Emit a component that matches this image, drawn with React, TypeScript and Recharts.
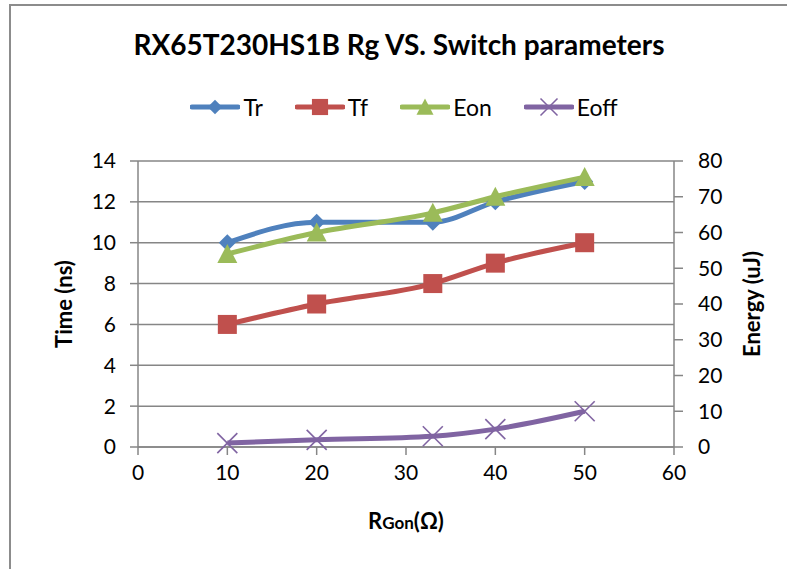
import { LineChart, Line, XAxis, YAxis, CartesianGrid } from "recharts";

// Rg (ohm) vs switching parameters
const rgValues = [10, 20, 33, 40, 50];
const trValues = [10, 11, 11, 12, 13];
const tfValues = [6, 7, 8, 9, 10];
const eonValues = [54, 60, 65.5, 70, 75.5];
const eoffValues = [1.1, 2, 3, 5, 10];

const rgTicks = [0, 10, 20, 30, 40, 50, 60];
const timeTicks = [0, 2, 4, 6, 8, 10, 12, 14];
const energyTicks = [0, 10, 20, 30, 40, 50, 60, 70, 80];

const data = rgValues.map((rg, i) => ({
  rg,
  Tr: trValues[i],
  Tf: tfValues[i],
  Eon: eonValues[i],
  Eoff: eoffValues[i],
}));

const FONT = "Lato, 'Open Sans', sans-serif";
const GRID = "#868686";

const COLORS = {
  Tr: "#4F81BD",
  Tf: "#C0504D",
  Eon: "#9BBB59",
  Eoff: "#8064A2",
};

type MarkerKind = "diamond" | "square" | "triangle" | "cross";

function Marker({ kind, cx, cy, color, s = 1 }: { kind: MarkerKind; cx: number; cy: number; color: string; s?: number }) {
  if (kind === "diamond") {
    const r = 8.5 * s;
    return <polygon points={`${cx},${cy - r} ${cx + r},${cy} ${cx},${cy + r} ${cx - r},${cy}`} fill={color} />;
  }
  if (kind === "square") {
    const r = 9.5 * s;
    return <rect x={cx - r} y={cy - r} width={r * 2} height={r * 2} fill={color} />;
  }
  if (kind === "triangle") {
    const r = 10 * s;
    return <polygon points={`${cx},${cy - r} ${cx + r},${cy + r * 0.9} ${cx - r},${cy + r * 0.9}`} fill={color} />;
  }
  const r = 10 * s;
  return (
    <g stroke={color} strokeWidth={1.6}>
      <line x1={cx - r} y1={cy - r} x2={cx + r} y2={cy + r} />
      <line x1={cx - r} y1={cy + r} x2={cx + r} y2={cy - r} />
    </g>
  );
}

const makeDot = (kind: MarkerKind, color: string) => (props: any) => {
  const { cx, cy, index } = props;
  if (cx == null || cy == null) return <g key={index} />;
  return <Marker key={index} kind={kind} cx={cx} cy={cy} color={color} />;
};

const legendItems: { name: string; kind: MarkerKind; color: string }[] = [
  { name: "Tr", kind: "diamond", color: COLORS.Tr },
  { name: "Tf", kind: "square", color: COLORS.Tf },
  { name: "Eon", kind: "triangle", color: COLORS.Eon },
  { name: "Eoff", kind: "cross", color: COLORS.Eoff },
];

function LegendBar() {
  return (
    <div
      style={{
        position: "absolute",
        left: 0,
        top: 93,
        width: 808,
        display: "flex",
        justifyContent: "center",
        alignItems: "center",
        gap: 32,
        fontFamily: FONT,
        fontSize: 23,
      }}
    >
      {legendItems.map((it) => (
        <div key={it.name} style={{ display: "flex", alignItems: "center" }}>
          <svg width={50} height={26}>
            <line x1={2} y1={13} x2={48} y2={13} stroke={it.color} strokeWidth={5} strokeLinecap="round" />
            <Marker kind={it.kind} cx={25} cy={13} color={it.color} s={0.85} />
          </svg>
          <span style={{ marginLeft: 3, color: "#000" }}>{it.name}</span>
        </div>
      ))}
    </div>
  );
}

function XLabel(props: any) {
  const { viewBox } = props;
  const cx = viewBox.x + viewBox.width / 2;
  return (
    <text x={cx} y={viewBox.y + 82} textAnchor="middle" fontFamily={FONT} fontWeight="bold" fontSize={22} fill="#000">
      R<tspan fontSize={17}>Gon</tspan>(Ω)
    </text>
  );
}

export default function App() {
  return (
    <div style={{ position: "absolute", left: 0, top: 0, width: 787, height: 569, background: "#fff", overflow: "hidden" }}>
      <div
        style={{
          position: "absolute",
          left: 9,
          top: 4,
          width: 800,
          height: 600,
          borderLeft: "2px solid #8c8c8c",
          borderTop: "2px solid #8c8c8c",
          boxSizing: "border-box",
        }}
      />
      <div
        style={{
          position: "absolute",
          left: 0,
          top: 27,
          width: 798,
          textAlign: "center",
          fontFamily: FONT,
          fontWeight: "bold",
          fontSize: 28,
          color: "#000",
        }}
      >
        RX65T230HS1B Rg VS. Switch parameters
      </div>
      <LegendBar />
      <LineChart
        width={787}
        height={569}
        data={data}
        margin={{ top: 161, right: 53, bottom: 82, left: 78 }}
        style={{ position: "absolute", left: 0, top: 0, fontFamily: FONT }}
      >
        <CartesianGrid yAxisId="time" vertical={false} stroke={GRID} strokeWidth={1.5} />
        <XAxis
          dataKey="rg"
          type="number"
          domain={[0, 60]}
          ticks={rgTicks}
          height={40}
          tickSize={8}
          tickMargin={10}
          stroke={GRID}
          strokeWidth={1.5}
          tick={{ fill: "#000", fontSize: 21 }}
          label={<XLabel />}
        />
        <YAxis
          yAxisId="time"
          domain={[0, 14]}
          ticks={timeTicks}
          width={60}
          tickSize={8}
          tickMargin={14}
          stroke={GRID}
          strokeWidth={1.5}
          tick={{ fill: "#000", fontSize: 21 }}
          label={{
            value: "Time (ns)",
            angle: -90,
            position: "insideLeft",
            offset: -14,
            style: { textAnchor: "middle", fontWeight: "bold", fontSize: 22, fill: "#000" },
          }}
        />
        <YAxis
          yAxisId="energy"
          orientation="right"
          domain={[0, 80]}
          ticks={energyTicks}
          width={60}
          tickSize={9}
          tickMargin={15}
          stroke={GRID}
          strokeWidth={1.5}
          tick={{ fill: "#000", fontSize: 21 }}
          label={{
            value: "Energy (uJ)",
            angle: -90,
            position: "insideRight",
            offset: -18,
            style: { textAnchor: "middle", fontWeight: "bold", fontSize: 22, fill: "#000" },
          }}
        />
        <Line
          yAxisId="time"
          type="monotone"
          dataKey="Tr"
          stroke={COLORS.Tr}
          strokeWidth={5}
          dot={makeDot("diamond", COLORS.Tr)}
          activeDot={false}
          isAnimationActive={false}
        />
        <Line
          yAxisId="time"
          type="monotone"
          dataKey="Tf"
          stroke={COLORS.Tf}
          strokeWidth={5}
          dot={makeDot("square", COLORS.Tf)}
          activeDot={false}
          isAnimationActive={false}
        />
        <Line
          yAxisId="energy"
          type="monotone"
          dataKey="Eon"
          stroke={COLORS.Eon}
          strokeWidth={5}
          dot={makeDot("triangle", COLORS.Eon)}
          activeDot={false}
          isAnimationActive={false}
        />
        <Line
          yAxisId="energy"
          type="monotone"
          dataKey="Eoff"
          stroke={COLORS.Eoff}
          strokeWidth={5}
          dot={makeDot("cross", COLORS.Eoff)}
          activeDot={false}
          isAnimationActive={false}
        />
      </LineChart>
    </div>
  );
}
